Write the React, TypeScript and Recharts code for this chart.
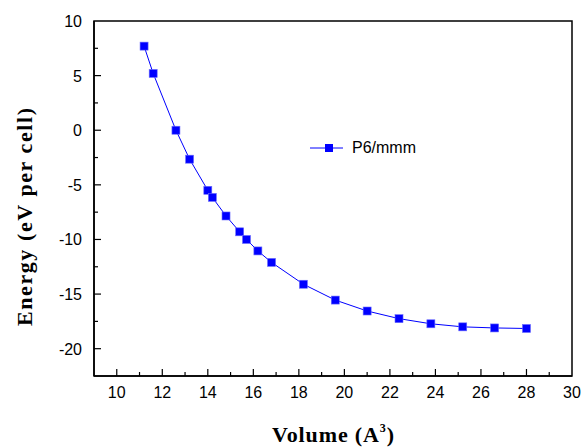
import React from 'react'
import { LineChart, Line, XAxis, YAxis, ReferenceArea, Label } from 'recharts'

// Energy vs. volume for the P6/mmm phase
const volumes = [11.2, 11.6, 12.6, 13.2, 14.0, 14.2, 14.8, 15.4, 15.7, 16.2, 16.8, 18.2, 19.6, 21.0, 22.4, 23.8, 25.2, 26.6, 28.0]
const energies = [7.7, 5.2, 0.0, -2.65, -5.5, -6.15, -7.85, -9.3, -10.0, -11.05, -12.1, -14.1, -15.55, -16.55, -17.25, -17.72, -18.0, -18.1, -18.15]
const xTicks = [10, 11, 12, 13, 14, 15, 16, 17, 18, 19, 20, 21, 22, 23, 24, 25, 26, 27, 28, 29, 30]
const yTicks = [-20, -17.5, -15, -12.5, -10, -7.5, -5, -2.5, 0, 2.5, 5, 7.5, 10]
const seriesName = 'P6/mmm'

const data = volumes.map((v, i) => ({ volume: v, energy: energies[i] }))

const BLUE = '#0000ff'
const tickFont = '"Liberation Sans", Arial, sans-serif'
const titleFont = '"Liberation Serif", "DejaVu Serif", serif'

const XTick = (props: any) => {
  const { x, y, payload } = props
  const major = payload.value % 2 === 0
  return (
    <g>
      {payload.value < 30 && (
        <line x1={x} x2={x} y1={y} y2={y - (major ? 7 : 4)} stroke="#000" strokeWidth={1.2} />
      )}
      {major && (
        <text x={x} y={y + 22} textAnchor="middle" style={{ fontSize: 16, fontFamily: tickFont }} fill="#000">
          {payload.value}
        </text>
      )}
    </g>
  )
}

const YTick = (props: any) => {
  const { x, y, payload } = props
  const major = payload.value % 5 === 0
  return (
    <g>
      {payload.value < 10 && (
        <line x1={x} x2={x + (major ? 7 : 4)} y1={y} y2={y} stroke="#000" strokeWidth={1.2} />
      )}
      {major && (
        <text x={x - 12} y={y + 6} textAnchor="end" style={{ fontSize: 16, fontFamily: tickFont }} fill="#000">
          {payload.value}
        </text>
      )}
    </g>
  )
}

const SquareDot = (props: any) => {
  const { cx, cy } = props
  if (cx == null || cy == null) return null
  return <rect x={cx - 4} y={cy - 4} width={8} height={8} fill={BLUE} stroke="#6a6aff" strokeWidth={0.6} />
}

const titleStyle = { fontFamily: titleFont, fontWeight: 700, fontSize: 22 }

export default function App() {
  return (
    <div style={{ position: 'absolute', left: 0, top: 0, width: 585, height: 448, background: '#fff' }}>
      <LineChart width={585} height={448} data={data} margin={{ top: 21, right: 13, bottom: 0, left: 0 }}>
        <XAxis
          dataKey="volume"
          type="number"
          domain={[9, 30]}
          ticks={xTicks}
          interval={0}
          tick={<XTick />}
          tickLine={false}
          tickSize={0}
          tickMargin={0}
          height={72}
          axisLine={{ stroke: '#000', strokeWidth: 1.5 }}
        >
          <Label
            content={() => (
              <text x={333} y={442} textAnchor="middle" style={titleStyle} fill="#000" textLength={122} lengthAdjust="spacing">
                Volume (A<tspan dy={-10} style={{ fontSize: 12 }}>3</tspan><tspan dy={10}>)</tspan>
              </text>
            )}
          />
        </XAxis>
        <YAxis
          type="number"
          domain={[-22.5, 10]}
          ticks={yTicks}
          interval={0}
          tick={<YTick />}
          tickLine={false}
          tickSize={0}
          tickMargin={0}
          width={94}
          axisLine={{ stroke: '#000', strokeWidth: 1.5 }}
        >
          <Label
            content={() => (
              <text x={32} y={217} transform="rotate(-90 32 217)" textAnchor="middle" style={titleStyle} fill="#000" textLength={218} lengthAdjust="spacing">
                Energy (eV per cell)
              </text>
            )}
          />
        </YAxis>
        <ReferenceArea x1={9} x2={30} y1={-22.5} y2={10} stroke="#000" strokeWidth={1.5} fill="none" fillOpacity={0} />
        <Line
          dataKey="energy"
          name={seriesName}
          stroke={BLUE}
          strokeWidth={1}
          dot={<SquareDot />}
          activeDot={false}
          isAnimationActive={false}
        />
      </LineChart>
      <div style={{ position: 'absolute', left: 309, top: 139, display: 'flex', alignItems: 'center', fontFamily: tickFont, fontSize: 16, lineHeight: '18px' }}>
        <svg width={36} height={12}>
          <line x1={1} x2={34} y1={6} y2={6} stroke={BLUE} strokeWidth={1} />
          <rect x={16} y={2} width={8} height={8} fill={BLUE} />
        </svg>
        <span style={{ marginLeft: 7 }}>{seriesName}</span>
      </div>
    </div>
  )
}
